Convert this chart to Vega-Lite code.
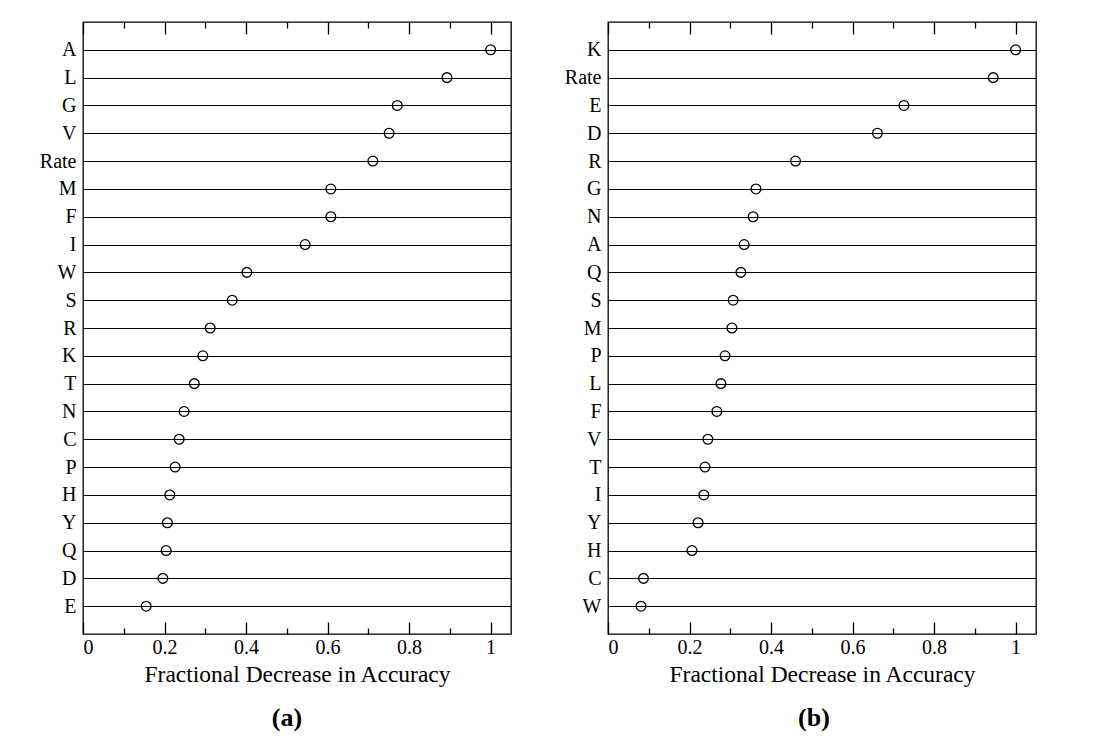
{
  "$schema": "https://vega.github.io/schema/vega-lite/v6.json",
  "background": "white",
  "padding": {"left": 38, "top": 20, "right": 5, "bottom": 5},
  "autosize": {"type": "pad"},
  "config": {
    "font": "Liberation Serif",
    "view": {"stroke": "black", "strokeWidth": 1.3},
    "axis": {
      "labelFont": "Liberation Serif",
      "titleFont": "Liberation Serif",
      "labelColor": "black",
      "titleColor": "black",
      "tickColor": "black",
      "tickWidth": 1.3,
      "domain": false,
      "grid": false,
      "labelFontSize": 20,
      "titleFontSize": 23.5,
      "titleFontWeight": "normal"
    }
  },
  "datasets": {
    "a": [
      {"feature": "A", "value": 1.0},
      {"feature": "L", "value": 0.893},
      {"feature": "G", "value": 0.771},
      {"feature": "V", "value": 0.751},
      {"feature": "Rate", "value": 0.711},
      {"feature": "M", "value": 0.608},
      {"feature": "F", "value": 0.608},
      {"feature": "I", "value": 0.545},
      {"feature": "W", "value": 0.402},
      {"feature": "S", "value": 0.366},
      {"feature": "R", "value": 0.312},
      {"feature": "K", "value": 0.294},
      {"feature": "T", "value": 0.273},
      {"feature": "N", "value": 0.248},
      {"feature": "C", "value": 0.236},
      {"feature": "P", "value": 0.226},
      {"feature": "H", "value": 0.213},
      {"feature": "Y", "value": 0.207},
      {"feature": "Q", "value": 0.204},
      {"feature": "D", "value": 0.196},
      {"feature": "E", "value": 0.155}
    ],
    "b": [
      {"feature": "K", "value": 1.0},
      {"feature": "Rate", "value": 0.945},
      {"feature": "E", "value": 0.726},
      {"feature": "D", "value": 0.661},
      {"feature": "R", "value": 0.46},
      {"feature": "G", "value": 0.363},
      {"feature": "N", "value": 0.356},
      {"feature": "A", "value": 0.334},
      {"feature": "Q", "value": 0.326},
      {"feature": "S", "value": 0.307},
      {"feature": "M", "value": 0.304},
      {"feature": "P", "value": 0.287},
      {"feature": "L", "value": 0.277},
      {"feature": "F", "value": 0.267},
      {"feature": "V", "value": 0.245},
      {"feature": "T", "value": 0.238},
      {"feature": "I", "value": 0.235},
      {"feature": "Y", "value": 0.221},
      {"feature": "H", "value": 0.206},
      {"feature": "C", "value": 0.087},
      {"feature": "W", "value": 0.081}
    ]
  },
  "bounds": "flush",
  "spacing": 97,
  "hconcat": [
    {
      "data": {"name": "a"},
      "width": 428,
      "height": 612,
      "title": {"text": "(a)", "orient": "bottom", "font": "Liberation Serif", "fontSize": 26, "fontWeight": "bold", "color": "black", "offset": 19, "dx": -10},
      "layer": [
        {
          "mark": {"type": "point", "shape": "circle", "size": 95, "filled": false, "stroke": "black", "strokeWidth": 1.3, "opacity": 1},
          "encoding": {
            "y": {"field": "feature", "type": "nominal", "sort": null, "scale": {"type": "point", "padding": 1},
              "axis": {"title": null, "ticks": false, "grid": true, "gridColor": "black", "gridWidth": 1.2, "gridOpacity": 1, "labelPadding": 7}},
            "x": {"field": "value", "type": "quantitative", "scale": {"domain": [0, 1.05], "nice": false, "zero": false},
              "axis": {"orient": "bottom", "values": [0, 0.2, 0.4, 0.6, 0.8, 1], "format": "~g", "tickSize": -12, "labelPadding": 15, "title": "Fractional Decrease in Accuracy", "titlePadding": 5}}
          }
        },
        {
          "mark": {"type": "point", "opacity": 0},
          "encoding": {"x": {"field": "value", "type": "quantitative", "axis": {"orient": "bottom", "values": [0.1, 0.3, 0.5, 0.7, 0.9], "tickSize": -6, "labels": false, "title": null}}}
        },
        {
          "mark": {"type": "point", "opacity": 0},
          "encoding": {"x": {"field": "value", "type": "quantitative", "axis": {"orient": "top", "values": [0, 0.2, 0.4, 0.6, 0.8, 1], "tickSize": -12, "labels": false, "title": null}}}
        },
        {
          "mark": {"type": "point", "opacity": 0},
          "encoding": {"x": {"field": "value", "type": "quantitative", "axis": {"orient": "top", "values": [0.1, 0.3, 0.5, 0.7, 0.9], "tickSize": -6, "labels": false, "title": null}}}
        }
      ],
      "resolve": {"axis": {"x": "independent"}}
    },
    {
      "data": {"name": "b"},
      "width": 428,
      "height": 612,
      "title": {"text": "(b)", "orient": "bottom", "font": "Liberation Serif", "fontSize": 26, "fontWeight": "bold", "color": "black", "offset": 19, "dx": -8},
      "layer": [
        {
          "mark": {"type": "point", "shape": "circle", "size": 95, "filled": false, "stroke": "black", "strokeWidth": 1.3, "opacity": 1},
          "encoding": {
            "y": {"field": "feature", "type": "nominal", "sort": null, "scale": {"type": "point", "padding": 1},
              "axis": {"title": null, "ticks": false, "grid": true, "gridColor": "black", "gridWidth": 1.2, "gridOpacity": 1, "labelPadding": 7}},
            "x": {"field": "value", "type": "quantitative", "scale": {"domain": [0, 1.05], "nice": false, "zero": false},
              "axis": {"orient": "bottom", "values": [0, 0.2, 0.4, 0.6, 0.8, 1], "format": "~g", "tickSize": -12, "labelPadding": 15, "title": "Fractional Decrease in Accuracy", "titlePadding": 5}}
          }
        },
        {
          "mark": {"type": "point", "opacity": 0},
          "encoding": {"x": {"field": "value", "type": "quantitative", "axis": {"orient": "bottom", "values": [0.1, 0.3, 0.5, 0.7, 0.9], "tickSize": -6, "labels": false, "title": null}}}
        },
        {
          "mark": {"type": "point", "opacity": 0},
          "encoding": {"x": {"field": "value", "type": "quantitative", "axis": {"orient": "top", "values": [0, 0.2, 0.4, 0.6, 0.8, 1], "tickSize": -12, "labels": false, "title": null}}}
        },
        {
          "mark": {"type": "point", "opacity": 0},
          "encoding": {"x": {"field": "value", "type": "quantitative", "axis": {"orient": "top", "values": [0.1, 0.3, 0.5, 0.7, 0.9], "tickSize": -6, "labels": false, "title": null}}}
        }
      ],
      "resolve": {"axis": {"x": "independent"}}
    }
  ]
}
